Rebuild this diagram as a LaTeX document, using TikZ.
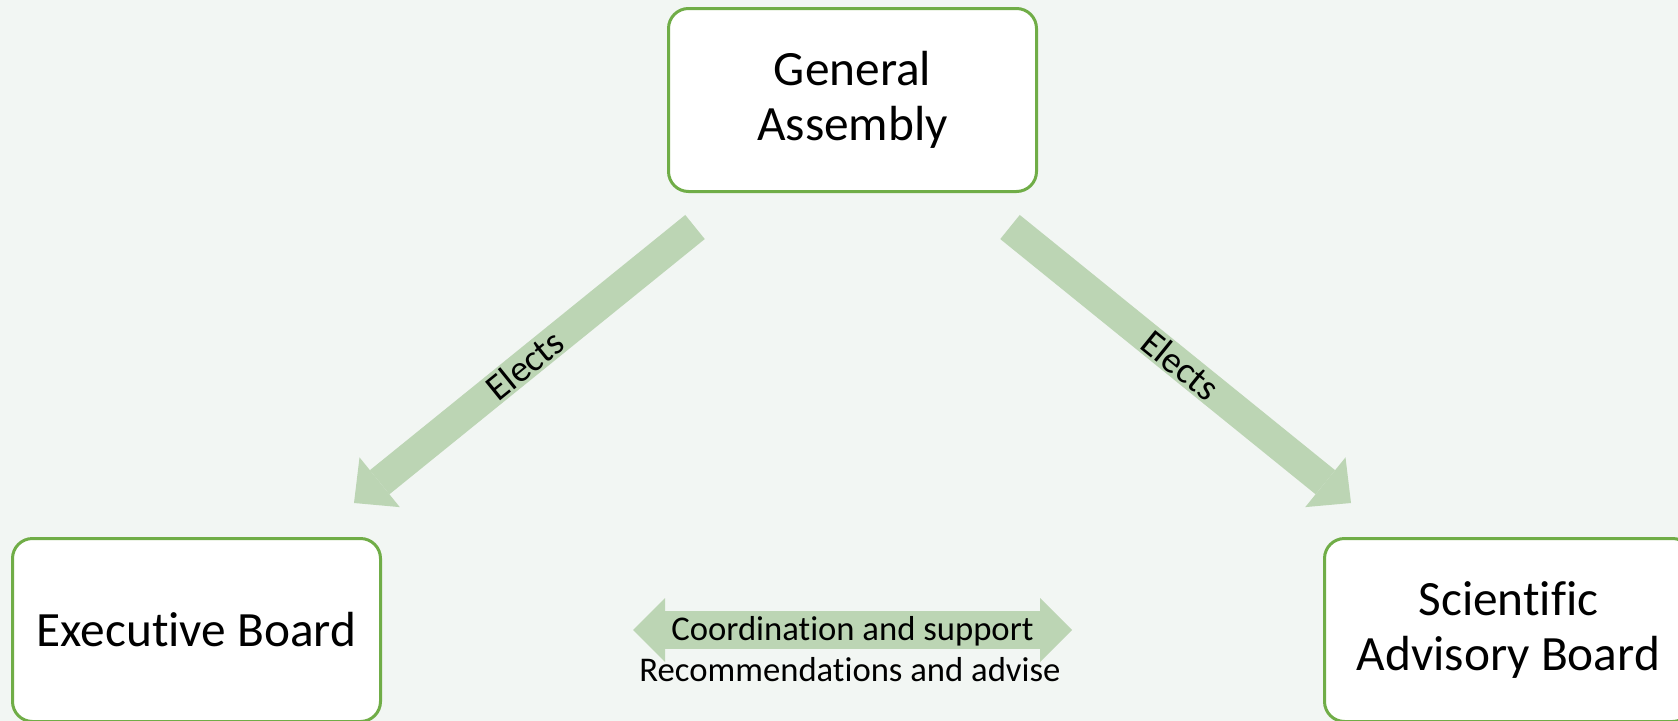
\documentclass[tikz,border=0pt]{standalone}
\usepackage{fontspec}
\setmainfont{Carlito}[Ligatures=NoCommon]
\usetikzlibrary{arrows.meta}
\definecolor{bg}{RGB}{242,246,243}
\definecolor{boxline}{RGB}{112,173,71}
\definecolor{arrowfill}{RGB}{188,213,180}
\begin{document}
\begin{tikzpicture}[x=0.75pt,y=-0.75pt,
  board/.style={draw=boxline, line width=2.25pt, fill=white, rounded corners=15pt,
    minimum width=276pt, minimum height=137.25pt, align=center, inner sep=0pt,
    font=\fontsize{37}{41.25}\selectfont},
  bigarrow/.style={draw=arrowfill, line width=23.25pt,
    -{Triangle[width=48pt,length=24.75pt,line width=0pt]}},
  dblarrow/.style={draw=arrowfill, line width=28.5pt,
    {Triangle[width=48pt,length=24pt,line width=0pt]}-{Triangle[width=48pt,length=24pt,line width=0pt]}},
  elabel/.style={font=\fontsize{28}{32}\selectfont, inner sep=0pt, sloped},
  midlabel/.style={font=\fontsize{26}{30}\selectfont, inner sep=0pt, anchor=base}
]
\fill[bg] (0,0) rectangle (1678,721);
\useasboundingbox (0,0) rectangle (1678,721);
\clip (0,0) rectangle (1678,721);

\node[board] (ga) at (852.5,100) {General\\Assembly};
\node[board] (eb) at (196.5,630) {Executive Board};
\node[board] (sab) at (1508.5,630) {Scientific\\Advisory Board};

\coordinate (l1) at (695,227);
\coordinate (l2) at (354,503);
\coordinate (r1) at (1010,227);
\coordinate (r2) at (1351,503);
\coordinate (c1) at (633,630);
\coordinate (c2) at (1072,630);

\draw[bigarrow] (l1) -- node[elabel] (el) {Elects} (l2);
\draw[bigarrow] (r1) -- node[elabel] (er) {Elects} (r2);
\draw[dblarrow] (c1) -- (c2);

\node[midlabel] (coord) at (852.5,640) {Coordination and support};
\node[midlabel] (rec) at (850,681) {Recommendations and advise};
\end{tikzpicture}
\end{document}
